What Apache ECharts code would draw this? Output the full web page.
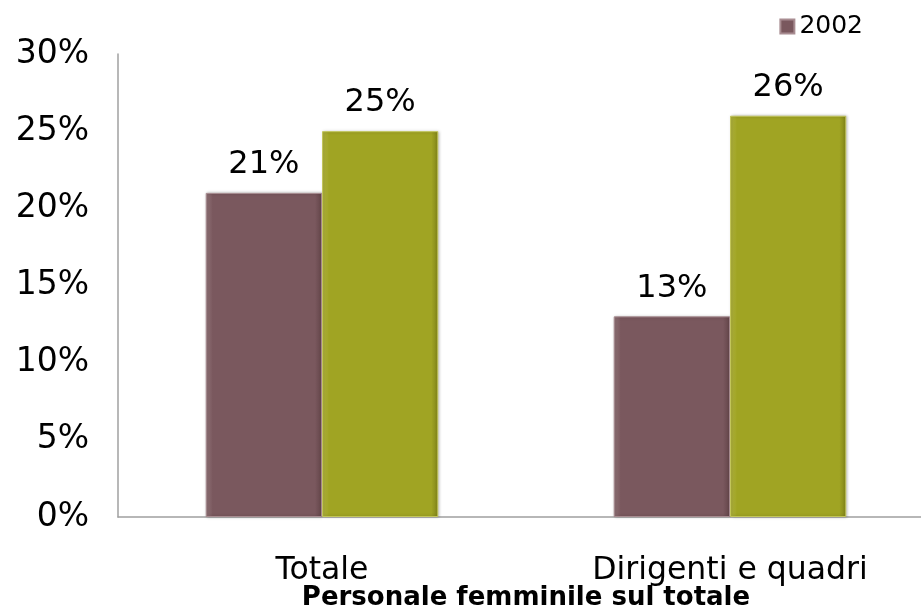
<!DOCTYPE html>
<html>
<head>
<meta charset="utf-8">
<script src="https://cdn.jsdelivr.net/npm/echarts@6/dist/echarts.min.js"></script>
<style>
	html, body { margin: 0; padding: 0; background: #FFFFFF; }
	#myChart { width: 921px; height: 610px; }
</style>
</head>
<body>
<div id="myChart"></div>
<script>
	var categories = ['Totale', 'Dirigenti e quadri'];
	var values2002 = [21, 13];
	var valuesOther = [25, 26];
	var yTicks = [0, 5, 10, 15, 20, 25, 30];

	var myChart = echarts.init(document.getElementById('myChart'));
	var font = '"DejaVu Sans", sans-serif';

	// barre con leggero effetto rilievo
	function bevel(base, light, dark) {
		return new echarts.graphic.LinearGradient(0, 0, 1, 0, [
			{ offset: 0, color: light },
			{ offset: 0.06, color: base },
			{ offset: 0.94, color: base },
			{ offset: 1, color: dark }
		]);
	}

	myChart.setOption({
		animation: false,
		grid: {
			left: 118,
			top: 54,
			width: 816,
			height: 463,
			containLabel: false,
			outerBoundsMode: 'none'
		},
		legend: {
			data: ['2002'],
			right: 53,
			top: 9,
			icon: 'rect',
			itemWidth: 14,
			itemHeight: 14,
			itemGap: 6,
			itemStyle: { color: '#7a585e' },
			textStyle: { fontFamily: font, fontSize: 25, color: '#000' }
		},
		xAxis: {
			type: 'category',
			data: categories,
			name: 'Personale femminile sul totale',
			nameLocation: 'middle',
			nameGap: 68,
			nameMoveOverlap: false,
			nameTextStyle: { fontFamily: font, fontSize: 26, fontWeight: 'bold', color: '#000' },
			axisLine: { lineStyle: { color: '#a0a0a0', width: 1.5 } },
			axisTick: { show: false },
			axisLabel: { fontFamily: font, fontSize: 31.5, color: '#000', margin: 38 }
		},
		yAxis: {
			type: 'value',
			min: yTicks[0],
			max: yTicks[yTicks.length - 1],
			interval: 5,
			axisLine: { show: true, lineStyle: { color: '#a0a0a0', width: 1.5 } },
			axisTick: { show: false },
			splitLine: { show: false },
			axisLabel: {
				fontFamily: font, fontSize: 33, color: '#000', margin: 29,
				formatter: function (v) { return v + '%'; }
			}
		},
		series: [{
				name: '2002',
				type: 'bar',
				data: values2002,
				barGap: '0%',
				barCategoryGap: '43%',
				itemStyle: {
					color: bevel('#7a585e', '#94767b', '#624448'),
					borderColor: '#a88c91',
					borderWidth: 1,
					shadowColor: 'rgba(0,0,0,0.25)',
					shadowBlur: 3,
					shadowOffsetX: 1
				},
				label: {
					show: true, position: 'top', distance: 12,
					fontFamily: font, fontSize: 32, color: '#000',
					formatter: '{c}%'
				}
			},
			{
				name: '2012',
				type: 'bar',
				data: valuesOther,
				itemStyle: {
					color: bevel('#a0a423', '#b3b642', '#7f8218'),
					borderColor: '#c2c55a',
					borderWidth: 1,
					shadowColor: 'rgba(0,0,0,0.25)',
					shadowBlur: 3,
					shadowOffsetX: 1
				},
				label: {
					show: true, position: 'top', distance: 12,
					fontFamily: font, fontSize: 32, color: '#000',
					formatter: '{c}%'
				}
			}
		]
	});
</script>
</body>
</html>
